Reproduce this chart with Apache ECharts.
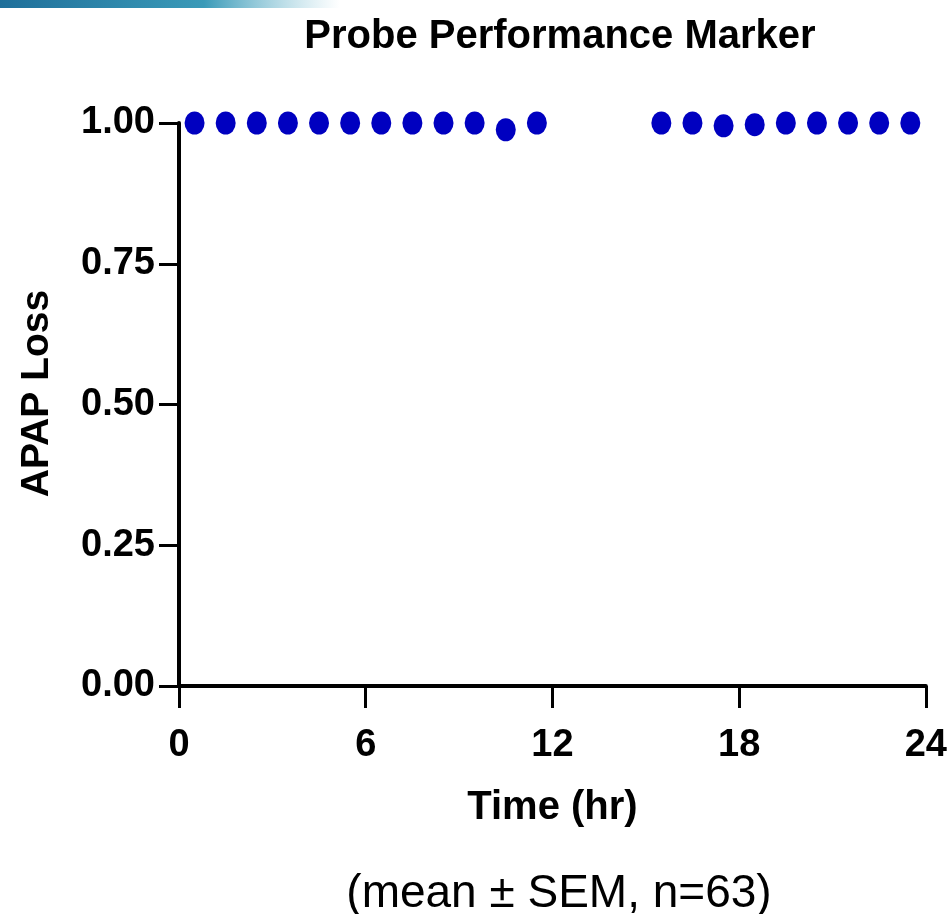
<!DOCTYPE html>
<html><head><meta charset="utf-8">
<script src="https://cdn.jsdelivr.net/npm/echarts@6/dist/echarts.min.js"></script>
<style>html,body{margin:0;padding:0;background:#fff}#c{width:950px;height:914px}</style>
</head><body><div id="c"></div>
<script>
const timeHr = [0.5,1.5,2.5,3.5,4.5,5.5,6.5,7.5,8.5,9.5,10.5,11.5,15.5,16.5,17.5,18.5,19.5,20.5,21.5,22.5,23.5];
const apapLoss = [1,1,1,1,1,1,1,1,1,1,0.988,1,1,1,0.995,0.997,1,1,1,1,1];
const xTicks = [0,6,12,18,24];
const yTicks = [0,0.25,0.5,0.75,1];

const sans = "'Liberation Sans',Arial,sans-serif";
const chart = echarts.init(document.getElementById('c'));
chart.setOption({
  animation:false,
  backgroundColor:'#fff',
  title:[{text:'Probe Performance Marker',left:555,top:12,textAlign:'center',
    textStyle:{fontFamily:sans,fontWeight:'bold',fontSize:40,color:'#000'}},
    {text:'(mean \u00B1 SEM, n=63)',left:554,top:866,textAlign:'center',
    textStyle:{fontFamily:sans,fontWeight:'normal',fontSize:46,color:'#000'}}],
  graphic:[{type:'rect',shape:{x:0,y:0,width:340,height:8},
    style:{fill:new echarts.graphic.LinearGradient(0,0,1,0,[{offset:0,color:'#1f6f9a'},{offset:0.6,color:'#3a9ab8'},{offset:1,color:'rgba(120,190,210,0)'}])}}],
  grid:{left:179,right:22,top:123,bottom:228,containLabel:false},
  xAxis:{type:'value',min:0,max:24,interval:6,
    name:'Time (hr)',nameLocation:'middle',nameGap:102,
    nameTextStyle:{fontFamily:sans,fontWeight:'bold',fontSize:40,color:'#000'},
    axisLine:{lineStyle:{color:'#000',width:4}},
    axisTick:{show:true,length:22,lineStyle:{color:'#000',width:3}},
    axisLabel:{fontFamily:sans,fontWeight:'bold',fontSize:38,color:'#000',margin:41,
      customValues:xTicks, formatter:v=>String(v)},
    splitLine:{show:false}},
  yAxis:{type:'value',min:0,max:1,interval:0.25,
    name:'APAP Loss',nameLocation:'middle',nameGap:122,nameRotate:90,
    nameTextStyle:{fontFamily:sans,fontWeight:'bold',fontSize:39,color:'#000',padding:[0,0,0,22]},
    axisLine:{show:true,lineStyle:{color:'#000',width:4}},
    axisTick:{show:true,length:20,lineStyle:{color:'#000',width:3}},
    axisLabel:{fontFamily:sans,fontWeight:'bold',fontSize:38,color:'#000',margin:24,
      formatter:v=>v.toFixed(2)},
    splitLine:{show:false}},
  series:[{type:'scatter',data:timeHr.map((t,i)=>[t,apapLoss[i]]),
    symbol:'circle',symbolSize:[20,23],itemStyle:{color:'#0000C0',opacity:1},z:5}]
});
</script></body></html>
